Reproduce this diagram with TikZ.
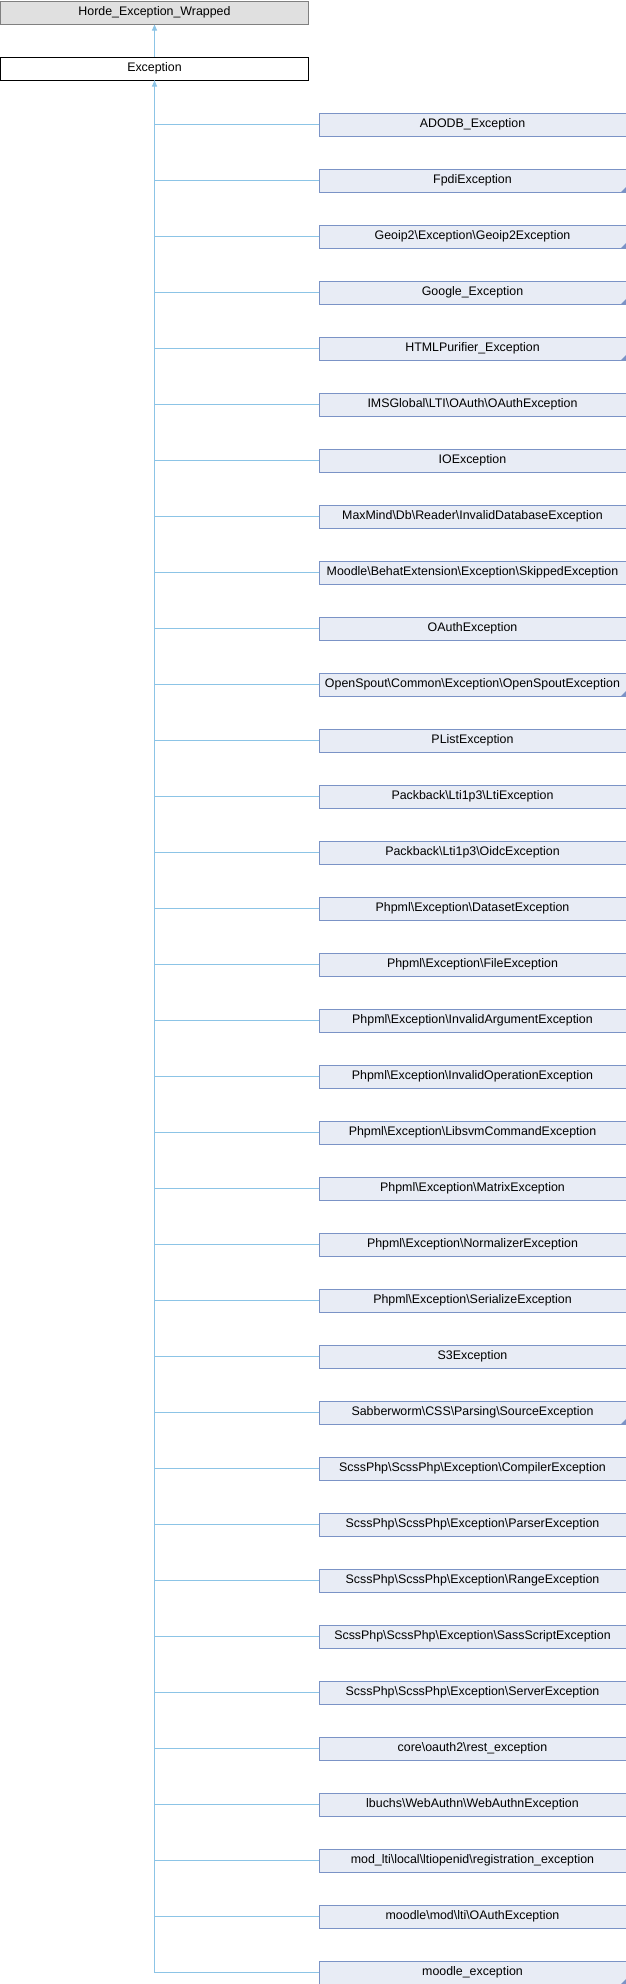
\documentclass[tikz,border=0pt]{standalone}
\usepackage{fontspec}
\setmainfont{Liberation Sans}
\usetikzlibrary{arrows.meta}

\definecolor{edgeblue}{HTML}{8CC4E6}
\definecolor{boxfill}{HTML}{E8ECF5}
\definecolor{boxborder}{HTML}{7B93C6}
\definecolor{rootfill}{HTML}{E0E0E0}
\definecolor{rootborder}{HTML}{808080}

\newcommand{\bs}{\textbackslash{}}

\tikzset{
  classbox/.style={draw=boxborder, fill=boxfill, line width=1bp, inner sep=0pt,
    minimum width=307bp, minimum height=23bp, anchor=north west},
  edge/.style={draw=edgeblue, line width=1bp},
  inherit/.style={-{Triangle[width=5bp,length=6bp]}}
}

\begin{document}
\begin{tikzpicture}[x=1bp, y=-1bp, font=\fontsize{12.4bp}{14bp}\selectfont]
  \useasboundingbox (0,0) rectangle (626,1984);

  % Basisklassen
  \node[classbox, draw=rootborder, fill=rootfill] (horde) at (0.5,0.5) {Horde\_Exception\_Wrapped};
  \node[classbox, draw=black, fill=white] (exc) at (0.5,56.5) {Exception};
  \draw[edge, inherit] (exc.north) -- (horde.south);

  % abgeleitete Klassen
  \foreach \name [count=\i from 0] in {
      ADODB\_Exception,
      FpdiException,
      Geoip2\bs Exception\bs Geoip2Exception,
      Google\_Exception,
      HTMLPurifier\_Exception,
      IMSGlobal\bs LTI\bs OAuth\bs OAuthException,
      IOException,
      MaxMind\bs Db\bs Reader\bs InvalidDatabaseException,
      Moodle\bs BehatExtension\bs Exception\bs SkippedException,
      OAuthException,
      OpenSpout\bs Common\bs Exception\bs OpenSpoutException,
      PListException,
      Packback\bs Lti1p3\bs LtiException,
      Packback\bs Lti1p3\bs OidcException,
      Phpml\bs Exception\bs DatasetException,
      Phpml\bs Exception\bs FileException,
      Phpml\bs Exception\bs InvalidArgumentException,
      Phpml\bs Exception\bs InvalidOperationException,
      Phpml\bs Exception\bs LibsvmCommandException,
      Phpml\bs Exception\bs MatrixException,
      Phpml\bs Exception\bs NormalizerException,
      Phpml\bs Exception\bs SerializeException,
      S3Exception,
      Sabberworm\bs CSS\bs Parsing\bs SourceException,
      ScssPhp\bs ScssPhp\bs Exception\bs CompilerException,
      ScssPhp\bs ScssPhp\bs Exception\bs ParserException,
      ScssPhp\bs ScssPhp\bs Exception\bs RangeException,
      ScssPhp\bs ScssPhp\bs Exception\bs SassScriptException,
      ScssPhp\bs ScssPhp\bs Exception\bs ServerException,
      core\bs oauth2\bs rest\_exception,
      lbuchs\bs WebAuthn\bs WebAuthnException,
      mod\_lti\bs local\bs ltiopenid\bs registration\_exception,
      moodle\bs mod\bs lti\bs OAuthException,
      moodle\_exception} {
    \node[classbox] (c\i) at (318.5,112.5+56*\i) {\name};
    \draw[edge] (exc.south) |- (c\i.west);
  }
  \draw[edge, inherit] (c33.west) -| (exc.south);

  % Markierung fuer weitere Unterklassen
  \foreach \m in {1,2,3,4,10,23,33}
    \fill[boxborder] (c\m.south east) -- ++(-6,0) -- ++(6,-6) -- cycle;
\end{tikzpicture}
\end{document}
